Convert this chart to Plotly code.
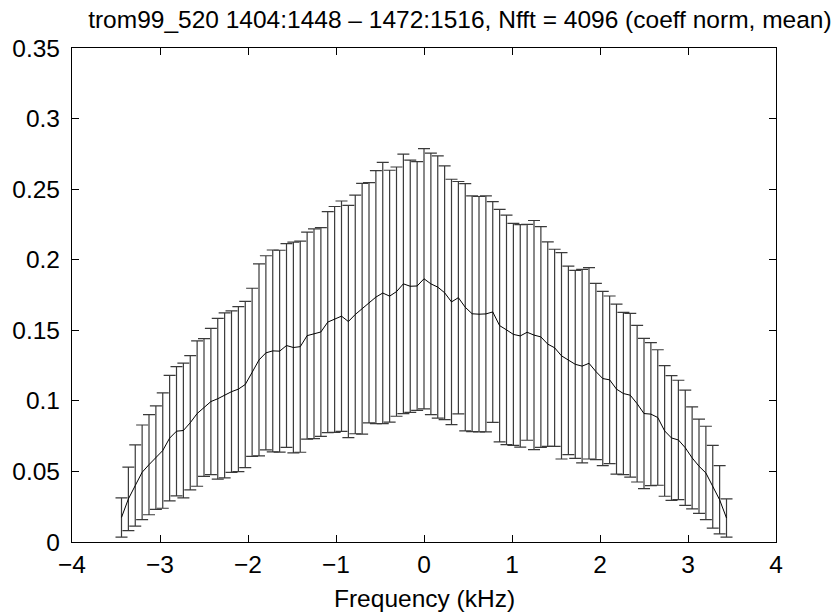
import plotly.graph_objects as go

# Frequency bins (kHz)
freq_khz = [
    -3.4375, -3.359375, -3.28125, -3.203125, -3.125, -3.046875, -2.96875, -2.890625,
    -2.8125, -2.734375, -2.65625, -2.578125, -2.5, -2.421875, -2.34375, -2.265625,
    -2.1875, -2.109375, -2.03125, -1.953125, -1.875, -1.796875, -1.71875, -1.640625,
    -1.5625, -1.484375, -1.40625, -1.328125, -1.25, -1.171875, -1.09375, -1.015625,
    -0.9375, -0.859375, -0.78125, -0.703125, -0.625, -0.546875, -0.46875, -0.390625,
    -0.3125, -0.234375, -0.15625, -0.078125, 0.0,
    0.078125, 0.15625, 0.234375, 0.3125, 0.390625, 0.46875, 0.546875, 0.625,
    0.703125, 0.78125, 0.859375, 0.9375, 1.015625, 1.09375, 1.171875, 1.25,
    1.328125, 1.40625, 1.484375, 1.5625, 1.640625, 1.71875, 1.796875, 1.875,
    1.953125, 2.03125, 2.109375, 2.1875, 2.265625, 2.34375, 2.421875, 2.5,
    2.578125, 2.65625, 2.734375, 2.8125, 2.890625, 2.96875, 3.046875, 3.125,
    3.203125, 3.28125, 3.359375, 3.4375,
]

# Mean normalised coefficient
mean_val = [
    0.0174, 0.0305, 0.0400, 0.0494, 0.0548, 0.0598, 0.0648, 0.0736, 0.0785, 0.0790,
    0.0845, 0.0910, 0.0953, 0.0995, 0.1015, 0.1039, 0.1065, 0.1083, 0.1116, 0.1202,
    0.1290, 0.1340, 0.1354, 0.1352, 0.1392, 0.1378, 0.1384, 0.1462, 0.1475, 0.1488,
    0.1558, 0.1577, 0.1600, 0.1562, 0.1612, 0.1653, 0.1695, 0.1735, 0.1764, 0.1742,
    0.1774, 0.1829, 0.1812, 0.1814,
    0.1865,
    0.1829, 0.1806, 0.1766, 0.1701, 0.1731, 0.1663, 0.1617, 0.1614, 0.1616, 0.1630,
    0.1533, 0.1503, 0.1471, 0.1460, 0.1486, 0.1466, 0.1453, 0.1402, 0.1376, 0.1319,
    0.1287, 0.1259, 0.1246, 0.1266, 0.1208, 0.1158, 0.1149, 0.1083, 0.1052, 0.1040,
    0.0980, 0.0910, 0.0906, 0.0882, 0.0787, 0.0737, 0.0723, 0.0668, 0.0596, 0.0537,
    0.0489, 0.0392, 0.0299, 0.0170,
]

# Standard deviation (half error-bar length)
std_val = [
    0.0139, 0.0225, 0.0288, 0.0335, 0.0355, 0.0367, 0.0409, 0.0444, 0.0458, 0.0478,
    0.0476, 0.0515, 0.0488, 0.0518, 0.0569, 0.0585, 0.0572, 0.0585, 0.0589, 0.0596,
    0.0680, 0.0688, 0.0715, 0.0715, 0.0722, 0.0746, 0.0748, 0.0733, 0.0743, 0.0739,
    0.0783, 0.0800, 0.0816, 0.0823, 0.0845, 0.0888, 0.0851, 0.0896, 0.0925, 0.0892,
    0.0883, 0.0919, 0.0893, 0.0881,
    0.0922,
    0.0926, 0.0929, 0.0899, 0.0869, 0.0823, 0.0876, 0.0835, 0.0834, 0.0836, 0.0782,
    0.0824, 0.0813, 0.0786, 0.0788, 0.0765, 0.0812, 0.0782, 0.0724, 0.0698, 0.0731,
    0.0668, 0.0666, 0.0686, 0.0678, 0.0624, 0.0617, 0.0594, 0.0602, 0.0575, 0.0580,
    0.0555, 0.0532, 0.0507, 0.0480, 0.0463, 0.0442, 0.0423, 0.0408, 0.0362, 0.0334,
    0.0331, 0.0293, 0.0242, 0.0135,
]

x_ticks = [-4, -3, -2, -1, 0, 1, 2, 3, 4]
y_ticks = [0, 0.05, 0.1, 0.15, 0.2, 0.25, 0.3, 0.35]

title_text = "trom99_520 1404:1448 \u2013 1472:1516, Nfft = 4096 (coeff norm, mean)"
x_label = "Frequency (kHz)"

FONT = "Liberation Sans, Arial, Helvetica, sans-serif"

fig = go.Figure()
fig.add_trace(go.Scatter(
    x=freq_khz, y=mean_val, mode="lines",
    line=dict(color="black", width=1),
    error_y=dict(type="data", array=std_val, visible=True,
                 color="#3a3a3a", thickness=1.2, width=6),
    showlegend=False,
))

axis_common = dict(
    showline=True, linecolor="black", linewidth=1.2, mirror="ticks",
    ticks="inside", ticklen=7, tickwidth=1, tickcolor="black",
    showgrid=False, zeroline=False, automargin=False,
    tickfont=dict(family=FONT, size=24.5, color="black"),
)

fig.update_layout(
    width=837, height=614,
    margin=dict(l=72, r=61, t=48, b=72),
    paper_bgcolor="white", plot_bgcolor="white",
    font=dict(family=FONT, color="black"),
    title=dict(text=title_text, x=0.551, xref="paper", xanchor="center",
               y=1 - 19 / 614, yref="container", yanchor="middle",
               font=dict(family=FONT, size=24.5, color="black")),
    xaxis=dict(range=[-4, 4], tickvals=x_ticks, **axis_common),
    yaxis=dict(range=[0, 0.35], tickvals=y_ticks, ticklabelstandoff=6,
               **axis_common),
    annotations=[dict(text=x_label, xref="paper", yref="paper",
                      x=0.5, y=-(598 - 542) / 494, xanchor="center", yanchor="middle",
                      showarrow=False, font=dict(family=FONT, size=24.5, color="black"))],
)

fig.write_html("out.html")
